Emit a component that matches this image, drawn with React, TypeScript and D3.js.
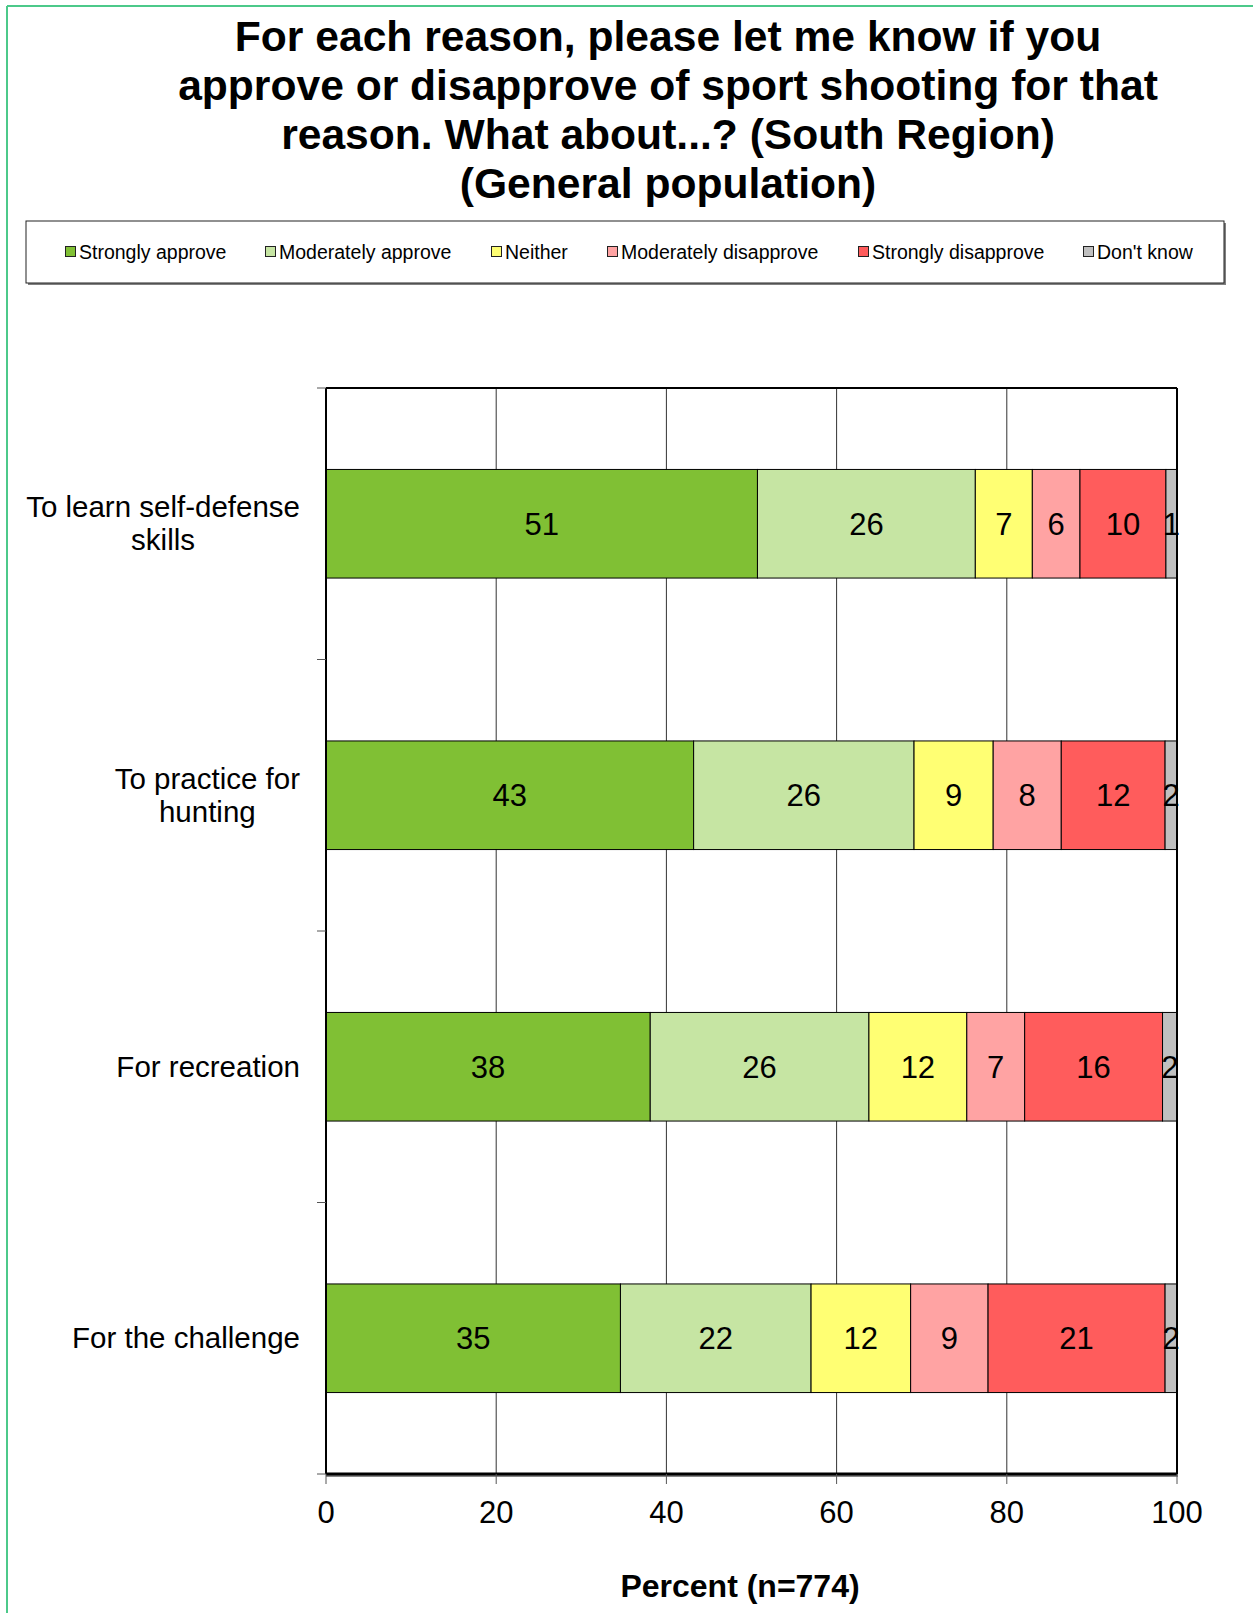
import React, { useEffect, useRef } from 'react';
import * as d3 from 'd3';

// ---- data ----
const reasons = [
  ['To learn self-defense', 'skills'],
  ['To practice for', 'hunting'],
  ['For recreation'],
  ['For the challenge'],
];
const responses = [
  'Strongly approve',
  'Moderately approve',
  'Neither',
  'Moderately disapprove',
  'Strongly disapprove',
  "Don't know",
];
const stronglyApprove = [50.7, 43.2, 38.1, 34.6];
const moderatelyApprove = [25.6, 25.9, 25.7, 22.4];
const neither = [6.7, 9.3, 11.5, 11.7];
const moderatelyDisapprove = [5.6, 8.0, 6.8, 9.1];
const stronglyDisapprove = [10.1, 12.2, 16.2, 20.8];
const dontKnow = [1.3, 1.5, 1.7, 1.5];
const xTicks = [0, 20, 40, 60, 80, 100];
const colors = ['#80c034', '#c6e5a3', '#ffff73', '#ffa3a3', '#ff5c5c', '#c0c0c0'];
const titleLines = [
  'For each reason, please let me know if you',
  'approve or disapprove of sport shooting for that',
  'reason. What about...? (South Region)',
  '(General population)',
];

const W = 1253;
const H = 1613;
const FONT = '"Liberation Sans", Arial, sans-serif';

const App: React.FC = () => {
  const svgRef = useRef<SVGSVGElement | null>(null);

  useEffect(() => {
    const svg = d3.select(svgRef.current);
    svg.selectAll('*').remove();

    const left = 326, right = 1177, top = 388, bottom = 1474;
    const x = d3.scaleLinear().domain([0, 100]).range([left, right]);
    const y = d3.scaleBand<number>().domain(d3.range(reasons.length)).range([top, bottom]).paddingInner(0.6).paddingOuter(0.3);

    const series = [stronglyApprove, moderatelyApprove, neither, moderatelyDisapprove, stronglyDisapprove, dontKnow];

    // page frame (green lines top & left)
    svg.append('line').attr('x1', 7).attr('x2', W).attr('y1', 6).attr('y2', 6).attr('stroke', '#4cc98a').attr('stroke-width', 2);
    svg.append('line').attr('x1', 7).attr('x2', 7).attr('y1', 6).attr('y2', H).attr('stroke', '#4cc98a').attr('stroke-width', 2);

    // title
    svg.append('g')
      .selectAll('text')
      .data(titleLines)
      .enter()
      .append('text')
      .attr('x', 668)
      .attr('y', (d, i) => 51 + i * 49)
      .attr('text-anchor', 'middle')
      .attr('font-family', FONT)
      .attr('font-weight', 'bold')
      .attr('font-size', 42.6)
      .text(d => d);

    // legend
    svg.append('rect').attr('x', 28).attr('y', 223).attr('width', 1198).attr('height', 62).attr('fill', '#808080');
    svg.append('rect').attr('x', 26).attr('y', 221).attr('width', 1198).attr('height', 62).attr('fill', 'white').attr('stroke', '#222').attr('stroke-width', 1);
    const legendX = [65, 265, 491, 607, 858, 1083];
    const lg = svg.append('g')
      .selectAll('g')
      .data(responses)
      .enter()
      .append('g')
      .attr('transform', (d, i) => `translate(${legendX[i]},252)`);
    lg.append('rect').attr('x', 0.5).attr('y', -5.5).attr('width', 10).attr('height', 10)
      .attr('fill', (d, i) => colors[i]).attr('stroke', '#222').attr('stroke-width', 1);
    lg.append('text').attr('x', 14).attr('y', 7)
      .attr('font-family', FONT).attr('font-size', 19.5).text(d => d);

    // gridlines
    svg.append('g')
      .selectAll('line')
      .data(xTicks.slice(1, -1))
      .enter()
      .append('line')
      .attr('x1', d => x(d)).attr('x2', d => x(d))
      .attr('y1', top).attr('y2', bottom)
      .attr('stroke', '#333').attr('stroke-width', 1);

    // bars
    reasons.forEach((_, r) => {
      let acc = 0;
      series.forEach((s, k) => {
        const v = s[r];
        const x0 = x(acc);
        const x1 = x(Math.min(acc + v, 100));
        acc += v;
        svg.append('rect')
          .attr('x', x0).attr('y', y(r)!)
          .attr('width', x1 - x0).attr('height', y.bandwidth())
          .attr('fill', colors[k]).attr('stroke', '#000').attr('stroke-width', 1);
        svg.append('text')
          .attr('x', (x0 + x1) / 2)
          .attr('y', y(r)! + y.bandwidth() / 2 + 11)
          .attr('text-anchor', 'middle')
          .attr('font-family', FONT).attr('font-size', 31)
          .text(Math.round(v));
      });
    });

    // plot border
    svg.append('line').attr('x1', left).attr('x2', right).attr('y1', top).attr('y2', top).attr('stroke', '#000').attr('stroke-width', 2);
    svg.append('line').attr('x1', right).attr('x2', right).attr('y1', top).attr('y2', bottom).attr('stroke', '#000').attr('stroke-width', 2);
    svg.append('line').attr('x1', left).attr('x2', left).attr('y1', top).attr('y2', bottom).attr('stroke', '#000').attr('stroke-width', 2);
    svg.append('line').attr('x1', left).attr('x2', right + 1).attr('y1', bottom + 1.5).attr('y2', bottom + 1.5).attr('stroke', '#888').attr('stroke-width', 3);
    svg.append('line').attr('x1', left).attr('x2', right).attr('y1', bottom).attr('y2', bottom).attr('stroke', '#000').attr('stroke-width', 3);

    // y ticks at band boundaries
    const bounds = d3.range(reasons.length + 1).map(i => top + (i * (bottom - top)) / reasons.length);
    svg.append('g')
      .selectAll('line')
      .data(bounds)
      .enter()
      .append('line')
      .attr('x1', left - 9).attr('x2', left)
      .attr('y1', d => d).attr('y2', d => d)
      .attr('stroke', '#555').attr('stroke-width', 1);

    // x axis ticks + labels
    const xa = svg.append('g');
    xa.selectAll('line')
      .data(xTicks)
      .enter()
      .append('line')
      .attr('x1', d => x(d)).attr('x2', d => x(d))
      .attr('y1', bottom).attr('y2', bottom + 10)
      .attr('stroke', '#555').attr('stroke-width', 1);
    xa.selectAll('text')
      .data(xTicks)
      .enter()
      .append('text')
      .attr('x', d => x(d))
      .attr('y', 1523)
      .attr('text-anchor', 'middle')
      .attr('font-family', FONT).attr('font-size', 31)
      .text(d => d);

    svg.append('text')
      .attr('x', 740).attr('y', 1597)
      .attr('text-anchor', 'middle')
      .attr('font-family', FONT).attr('font-weight', 'bold').attr('font-size', 32)
      .text('Percent (n=774)');

    // category labels
    reasons.forEach((lines, r) => {
      const cy = y(r)! + y.bandwidth() / 2;
      const lh = 33;
      const g = svg.append('text')
        .attr('font-family', FONT).attr('font-size', 29.5)
        .attr('text-anchor', 'middle');
      // measure widest line to right-align the centred block
      const tmp = svg.append('text').attr('font-family', FONT).attr('font-size', 29.5);
      const widths = lines.map(l => { tmp.text(l); return (tmp.node() as SVGTextElement).getComputedTextLength(); });
      tmp.remove();
      const maxW = d3.max(widths) || 0;
      const cx = 300 - maxW / 2;
      lines.forEach((l, i) => {
        g.append('tspan')
          .attr('x', cx)
          .attr('y', cy - ((lines.length - 1) * lh) / 2 + i * lh + 10)
          .text(l);
      });
    });
  }, []);

  return (
    <div style={{ position: 'absolute', left: 0, top: 0, width: W, height: H }}>
      <svg ref={svgRef} width={W} height={H} style={{ display: 'block', background: 'white' }} />
    </div>
  );
};

export default App;
